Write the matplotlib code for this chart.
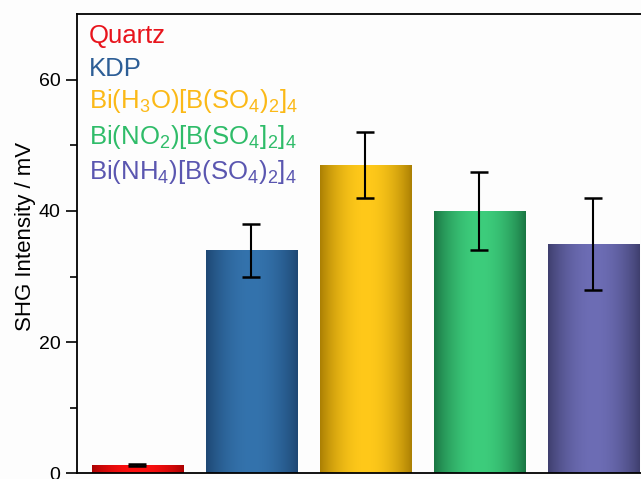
import numpy as np
import matplotlib
matplotlib.use("Agg")
import matplotlib.pyplot as plt
from matplotlib.colors import to_rgb

# Samples and measured SHG intensities (mV) with their uncertainties
samples = ["Quartz", "KDP", "Bi(H3O)[B(SO4)2]4", "Bi(NO2)[B(SO4]2]4", "Bi(NH4)[B(SO4)2]4"]
labels = [
    "Quartz",
    "KDP",
    r"Bi(H$_3$O)[B(SO$_4$)$_2$]$_4$",
    r"Bi(NO$_2$)[B(SO$_4$]$_2$]$_4$",
    r"Bi(NH$_4$)[B(SO$_4$)$_2$]$_4$",
]
intensity = [1.3, 34, 47, 40, 35]
errors = [0.2, 4, 5, 6, 7]

# Bar shading: (edge colour, centre colour) and label colours
bar_dark = ["#a00000", "#1b426c", "#a07600", "#166b3c", "#393965"]
bar_light = ["#ff1010", "#3473ad", "#ffc91a", "#3dcd7c", "#6d6db5"]
text_colors = ["#e8141c", "#2d5e96", "#fbb917", "#2fbc69", "#5a56b0"]

plt.rcParams["font.family"] = ["Liberation Sans", "DejaVu Sans"]
plt.rcParams["mathtext.fontset"] = "custom"
plt.rcParams["mathtext.rm"] = "Liberation Sans"
plt.rcParams["mathtext.it"] = "Liberation Sans:italic"
plt.rcParams["mathtext.bf"] = "Liberation Sans:bold"

fig = plt.figure(figsize=(6.41, 4.79), dpi=100, facecolor="#fdfdfd")
ax = fig.add_axes([0.1201, 0.0115, 0.900, 0.9593])
ax.set_facecolor("#fdfdfd")

x = np.arange(1, len(intensity) + 1)
width = 0.8
bars = ax.bar(x, intensity, width=width, color=bar_light, zorder=2)

# Cylindrical shading across each bar
t = np.linspace(0, 1, 200)
profile = np.clip(np.sin(np.pi * (t * 0.96 + 0.02)) ** 0.8, 0, 1)
for bar, dark, light in zip(bars, bar_dark, bar_light):
    d = np.array(to_rgb(dark))
    l = np.array(to_rgb(light))
    grad = d[None, :] + (l - d)[None, :] * profile[:, None]
    img = ax.imshow(grad[None, :, :], aspect="auto", zorder=2.5,
                    extent=[bar.get_x(), bar.get_x() + bar.get_width(),
                            0, bar.get_height()],
                    interpolation="bilinear")
    img.set_clip_path(bar)

ax.errorbar(x, intensity, yerr=errors, fmt="none", ecolor="black",
            elinewidth=1.5, capsize=6.5, capthick=1.8, zorder=3)

ax.set_xlim(0.47, 5.53)
ax.set_ylim(0, 70)
ax.set_yticks([0, 20, 40, 60])
ax.set_yticks([10, 30, 50], minor=True)
ax.set_xticks([])
ax.tick_params(axis="y", which="major", direction="out", length=8, width=1.2,
               labelsize=14, pad=4)
ax.tick_params(axis="y", which="minor", direction="out", length=5, width=1.2)
for s in ax.spines.values():
    s.set_linewidth(1.3)

ax.set_ylabel("SHG Intensity / mV", fontsize=16)
ax.yaxis.set_label_coords(-0.071, 0.515)

# Coloured sample names in the upper-left corner
ys = [0.937, 0.865, 0.795, 0.717, 0.641]
for lab, c, yy in zip(labels, text_colors, ys):
    ax.text(0.021, yy, lab, color=c, fontsize=18.5, transform=ax.transAxes,
            va="baseline", ha="left")

fig.savefig("out.png", dpi=100, facecolor=fig.get_facecolor())
